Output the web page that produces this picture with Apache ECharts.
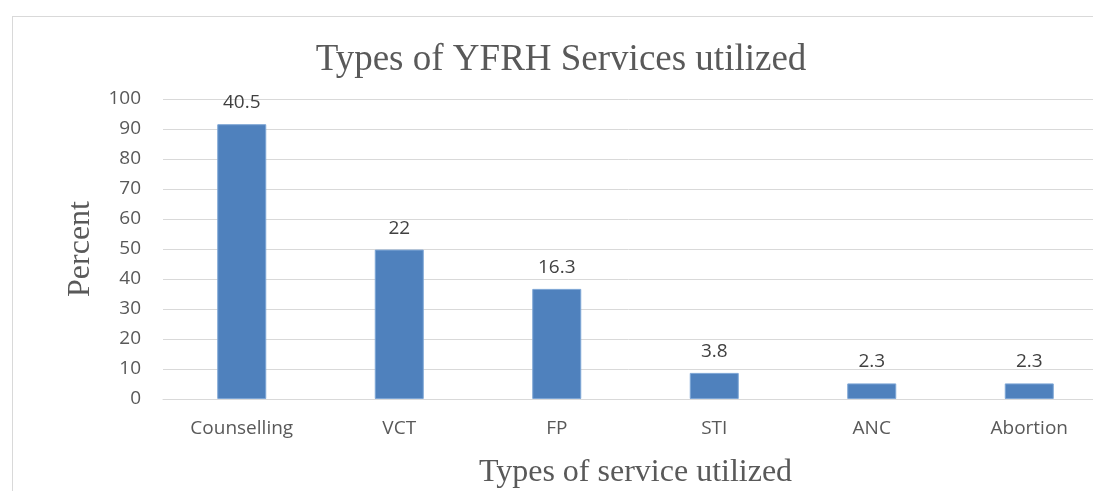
<!DOCTYPE html>
<html lang="en">
<head>
    <meta charset="UTF-8">
    <title>Types of YFRH Services utilized</title>
    <script src="https://cdn.jsdelivr.net/npm/echarts@6/dist/echarts.min.js"></script>
    <style>
        body {
            margin: 0;
            padding: 0;
            background-color: white;
        }
        #frame {
            position: absolute;
            left: 12px;
            top: 16px;
            width: 1100px;
            height: 500px;
            border: 1px solid #d9d9d9;
            box-sizing: border-box;
        }
        #chartContainer {
            position: absolute;
            left: 0;
            top: 0;
            width: 1093px;
            height: 491px;
        }
    </style>
</head>
<body>
    <div id="frame"></div>
    <div id="chartContainer"></div>

    <script>
        // categories and bar heights as drawn
        const categories = ['Counselling', 'VCT', 'FP', 'STI', 'ANC', 'Abortion'];
        const barValues = [91.6, 49.8, 36.7, 8.7, 5.2, 5.2];
        // data labels printed above the bars
        const barLabels = ['40.5', '22', '16.3', '3.8', '2.3', '2.3'];

        const chart = echarts.init(document.getElementById('chartContainer'));

        const option = {
            title: {
                text: 'Types of YFRH Services utilized',
                left: 556,
                top: 37,
                textAlign: 'center',
                textStyle: {
                    fontFamily: 'Liberation Serif',
                    fontSize: 37,
                    fontWeight: 'normal',
                    color: '#595959'
                }
            },
            grid: {
                left: 163,
                right: -15,
                top: 99,
                bottom: 92,
                outerBoundsMode: 'none'
            },
            xAxis: {
                type: 'category',
                data: categories,
                name: 'Types of service utilized',
                nameLocation: 'middle',
                nameGap: 58,
                nameTextStyle: {
                    fontFamily: 'Liberation Serif',
                    fontSize: 32,
                    color: '#595959'
                },
                axisLine: { lineStyle: { color: '#d9d9d9', width: 1 } },
                axisTick: { show: false },
                axisLabel: {
                    fontFamily: 'Open Sans',
                    fontSize: 19,
                    color: '#595959',
                    margin: 20
                }
            },
            yAxis: {
                type: 'value',
                min: 0,
                max: 100,
                interval: 10,
                name: 'Percent',
                nameLocation: 'middle',
                nameGap: 66,
                nameTextStyle: {
                    fontFamily: 'Liberation Serif',
                    fontSize: 32,
                    color: '#595959'
                },
                axisLine: { show: false },
                axisTick: { show: false },
                splitLine: { lineStyle: { color: '#d9d9d9', width: 1 } },
                axisLabel: {
                    fontFamily: 'Open Sans',
                    fontSize: 19,
                    color: '#595959',
                    margin: 22
                }
            },
            series: [
                {
                    type: 'bar',
                    data: barValues,
                    barWidth: 49,
                    itemStyle: {
                        color: '#4f81bd',
                        borderColor: '#7ea6d6',
                        borderWidth: 1
                    },
                    label: {
                        show: true,
                        position: 'top',
                        distance: 12,
                        fontFamily: 'Open Sans',
                        fontSize: 19,
                        color: '#404040',
                        formatter: p => barLabels[p.dataIndex]
                    }
                }
            ]
        };

        chart.setOption(option);
    </script>
</body>
</html>
